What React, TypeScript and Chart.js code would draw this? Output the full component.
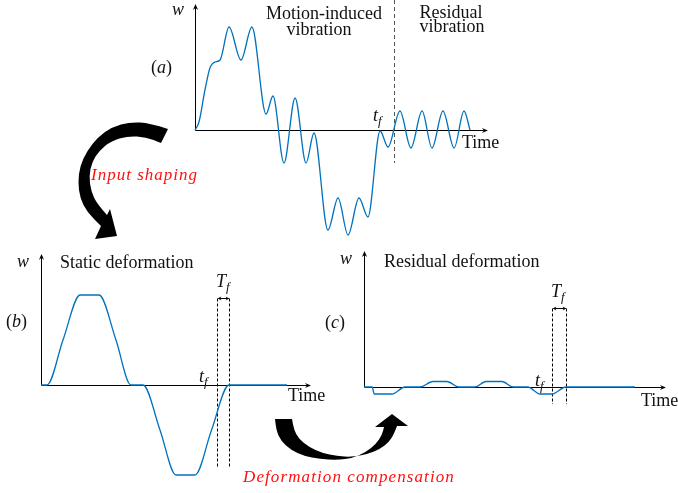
import React, { useEffect, useRef } from 'react';
import { Chart, registerables } from 'chart.js';

Chart.register(...registerables);

// ---------- data ----------
// (a) total vibration w(t): motion-induced part then residual part
const vibTime = [0, 0.2, 0.5, 0.75, 1.0, 1.26, 1.71, 2.31, 2.86, 3.57, 3.92, 4.47, 5.03, 5.58, 5.98, 6.68, 7.19, 7.69, 8.24, 8.69, 9.3, 9.7, 10.3, 10.85, 11.41, 11.91, 12.46, 13.02, 13.52, 13.82];
const vibW = [0, 0.08, 0.4, 0.62, 0.68, 0.7, 1.03, 0.7, 1.03, 0.16, 0.34, -0.33, 0.32, -0.33, -0.03, -1.0, -0.68, -1.05, -0.68, -0.87, -0.01, -0.17, 0.19, -0.18, 0.19, -0.18, 0.19, -0.18, 0.19, 0];

// (b) static deformation
const staticTime = [0, 0.34, 1.25, 2.22, 3.3, 4.26, 5.11, 5.8, 6.76, 7.67, 8.75, 9.69, 10.68, 13.98];
const staticW = [0, 0, 0.5, 1, 1, 0.5, 0, 0, -0.5, -1, -1, -0.5, 0, 0];

// (c) residual deformation
const residualTime = [0, 0.43, 0.55, 1.49, 2.18, 2.98, 3.67, 4.41, 5.05, 5.9, 6.49, 7.34, 7.93, 8.72, 9.36, 10.0, 10.74, 14.41];
const residualW = [0, 0, -0.078, -0.078, 0, 0, 0.061, 0.061, 0, 0, 0.061, 0.061, 0, 0, -0.078, -0.078, 0, 0];

const TF = 10; // t_f
const TF_WIDTH_B = 0.68; // T_f in panel (b)
const TF_WIDTH_C = 0.745; // T_f in panel (c)

// ---------- layout ----------
const W = 678;
const H = 493;
const BLUE = '#0072BD';
const SERIF = "'Liberation Serif', 'Times New Roman', 'DejaVu Serif', serif";
const ROMAN = `18px ${SERIF}`;
const ITAL = `italic 18px ${SERIF}`;
const SUB = `italic 13px ${SERIF}`;

type Panel = { id: string; ox: number; oy: number; kx: number; ky: number; xEnd: number; yTop: number };
const panels: Panel[] = [
  { id: 'a', ox: 195, oy: 130, kx: 19.9, ky: 100, xEnd: 14.72, yTop: 1.26 },
  { id: 'b', ox: 41, oy: 385, kx: 17.6, ky: 90, xEnd: 15.34, yTop: 1.456 },
  { id: 'c', ox: 364, oy: 387, kx: 18.8, ky: 90, xEnd: 16.06, yTop: 1.51 },
];

function buildScales() {
  const s: any = {};
  for (const p of panels) {
    s['x' + p.id] = { type: 'linear', display: false, bounds: 'data', min: -p.ox / p.kx, max: (W - p.ox) / p.kx };
    s['y' + p.id] = { type: 'linear', display: false, bounds: 'data', min: (p.oy - H) / p.ky, max: p.oy / p.ky };
  }
  return s;
}

function zip(t: number[], w: number[]) {
  return t.map((x, i) => ({ x, y: w[i] }));
}

function arrowHead(ctx: CanvasRenderingContext2D, tx: number, ty: number, dx: number, dy: number, len = 6, hw = 2.6) {
  const nx = -dy;
  const ny = dx;
  ctx.beginPath();
  ctx.moveTo(tx, ty);
  ctx.lineTo(tx - len * dx + hw * nx, ty - len * dy + hw * ny);
  ctx.lineTo(tx - 0.65 * len * dx, ty - 0.65 * len * dy);
  ctx.lineTo(tx - len * dx - hw * nx, ty - len * dy - hw * ny);
  ctx.closePath();
  ctx.fill();
}

type Part = { t: string; f: string; dy?: number };
function drawParts(ctx: CanvasRenderingContext2D, x: number, y: number, parts: Part[]) {
  let cx = x;
  for (const p of parts) {
    ctx.font = p.f;
    ctx.fillText(p.t, cx, y + (p.dy || 0));
    cx += ctx.measureText(p.t).width;
  }
}

function smoothPath(ctx: CanvasRenderingContext2D, pts: number[][], start: boolean) {
  if (start) ctx.moveTo(pts[0][0], pts[0][1]);
  else ctx.lineTo(pts[0][0], pts[0][1]);
  for (let i = 1; i < pts.length - 1; i++) {
    const mx = (pts[i][0] + pts[i + 1][0]) / 2;
    const my = (pts[i][1] + pts[i + 1][1]) / 2;
    ctx.quadraticCurveTo(pts[i][0], pts[i][1], mx, my);
  }
  const l = pts[pts.length - 1];
  ctx.lineTo(l[0], l[1]);
}

function curvedArrow(ctx: CanvasRenderingContext2D, outer: number[][], head: number[][], inner: number[][]) {
  ctx.beginPath();
  smoothPath(ctx, outer, true);
  for (const h of head) ctx.lineTo(h[0], h[1]);
  smoothPath(ctx, inner, false);
  ctx.closePath();
  ctx.fill();
}

const decor = {
  id: 'decor',
  beforeDatasetsDraw(chart: any) {
    const ctx: CanvasRenderingContext2D = chart.ctx;
    const S = chart.scales;
    const px = (id: string, v: number) => S['x' + id].getPixelForValue(v);
    const py = (id: string, v: number) => S['y' + id].getPixelForValue(v);
    ctx.save();
    ctx.fillStyle = '#000';
    ctx.strokeStyle = '#000';
    ctx.lineWidth = 1;

    // axes
    for (const p of panels) {
      const x0 = Math.round(px(p.id, 0)) + 0.5;
      const y0 = Math.round(py(p.id, 0)) + 0.5;
      const xe = px(p.id, p.xEnd);
      const yt = py(p.id, p.yTop);
      ctx.setLineDash([]);
      ctx.beginPath();
      ctx.moveTo(x0, y0);
      ctx.lineTo(xe - 3, y0);
      ctx.moveTo(x0, y0);
      ctx.lineTo(x0, yt + 3);
      ctx.stroke();
      arrowHead(ctx, xe, y0, 1, 0);
      arrowHead(ctx, x0, yt, 0, -1);
    }

    // (a) dashed separator at t_f
    {
      const x = Math.round(px('a', TF)) + 0.5;
      ctx.strokeStyle = '#555';
      ctx.setLineDash([4, 3]);
      ctx.beginPath();
      ctx.moveTo(x, py('a', 1.3));
      ctx.lineTo(x, py('a', -0.33));
      ctx.stroke();
    }

    // (b), (c) T_f window
    const windows = [
      { id: 'b', w: TF_WIDTH_B, top: 0.967, bot: -0.92 },
      { id: 'c', w: TF_WIDTH_C, top: 0.878, bot: -0.19 },
    ];
    for (const wd of windows) {
      const x1 = Math.round(px(wd.id, TF)) + 0.5;
      const x2 = Math.round(px(wd.id, TF + wd.w)) + 0.5;
      const yt = Math.round(py(wd.id, wd.top)) + 0.5;
      const yb = py(wd.id, wd.bot);
      ctx.strokeStyle = '#000';
      ctx.setLineDash([3, 2]);
      ctx.beginPath();
      ctx.moveTo(x1, yt);
      ctx.lineTo(x1, yb);
      ctx.moveTo(x2, yt);
      ctx.lineTo(x2, yb);
      ctx.stroke();
      ctx.setLineDash([]);
      ctx.beginPath();
      ctx.moveTo(x1 + 2, yt);
      ctx.lineTo(x2 - 2, yt);
      ctx.stroke();
      arrowHead(ctx, x1, yt, -1, 0, 4, 2);
      arrowHead(ctx, x2, yt, 1, 0, 4, 2);
    }

    // curved arrows
    ctx.fillStyle = '#000';
    curvedArrow(
      ctx,
      [[168, 129], [150, 123], [130, 122], [112, 127], [98, 137], [87, 151], [80, 166], [78, 182], [80, 198], [87, 212], [101, 226]],
      [[95, 239], [117, 236], [110, 209]],
      [[107, 215], [97, 204], [91, 191], [89, 176], [92, 162], [99, 151], [111, 141], [128, 136], [146, 137], [161, 143]]
    );
    curvedArrow(
      ctx,
      [[275, 419], [276, 430], [281, 441], [291, 450], [304, 456], [320, 459], [337, 460], [353, 458], [366, 452], [376, 444], [382, 435], [384, 427]],
      [[375, 427], [392, 414], [408, 426]],
      [[397, 426], [394, 434], [389, 442], [380, 449], [368, 454], [352, 457], [337, 456], [322, 453], [309, 447], [299, 439], [294, 430], [292, 419]]
    );

    // texts
    ctx.fillStyle = '#111';
    ctx.textBaseline = 'alphabetic';
    ctx.textAlign = 'left';
    const tf = (x: number, y: number) => drawParts(ctx, x, y, [{ t: 't', f: ITAL }, { t: 'f', f: SUB, dy: 4 }]);
    const Tf = (x: number, y: number) => drawParts(ctx, x, y, [{ t: 'T', f: ITAL }, { t: 'f', f: SUB, dy: 4 }]);
    const lab = (x: number, y: number, c: string) => drawParts(ctx, x, y, [{ t: '(', f: ROMAN }, { t: c, f: ITAL }, { t: ')', f: ROMAN }]);

    // panel a
    drawParts(ctx, 172, 15, [{ t: 'w', f: ITAL }]);
    lab(151, 73, 'a');
    ctx.font = ROMAN;
    ctx.textAlign = 'center';
    ctx.fillText('Motion-induced', 324, 19);
    ctx.fillText('vibration', 319, 35);
    ctx.fillText('Residual', 451, 18);
    ctx.fillText('vibration', 452, 32);
    ctx.textAlign = 'left';
    ctx.fillText('Time', 462, 148);
    tf(373, 121);

    // panel b
    drawParts(ctx, 17, 267, [{ t: 'w', f: ITAL }]);
    ctx.font = ROMAN;
    ctx.fillText('Static deformation', 60, 268);
    lab(6, 327, 'b');
    Tf(216, 287);
    tf(199, 382);
    ctx.font = ROMAN;
    ctx.fillText('Time', 288, 401);

    // panel c
    drawParts(ctx, 340, 264, [{ t: 'w', f: ITAL }]);
    ctx.font = ROMAN;
    ctx.fillText('Residual deformation', 384, 267);
    lab(325, 328, 'c');
    Tf(551, 297);
    tf(535, 386);
    ctx.font = ROMAN;
    ctx.fillText('Time', 641, 406);

    // red captions
    ctx.fillStyle = '#ff1010';
    ctx.font = `italic 17px ${SERIF}`;
    (ctx as any).letterSpacing = '1px';
    ctx.fillText('Input shaping', 91, 180);
    (ctx as any).letterSpacing = '1.1px';
    ctx.fillText('Deformation compensation', 243, 482);
    (ctx as any).letterSpacing = '0px';

    ctx.restore();
  },
};

export default function App() {
  const ref = useRef<HTMLCanvasElement | null>(null);
  useEffect(() => {
    if (!ref.current) return;
    const common = {
      borderColor: BLUE,
      borderWidth: 1.3,
      pointRadius: 0,
      fill: false,
      cubicInterpolationMode: 'monotone' as const,
      clip: false as any,
    };
    const chart = new Chart(ref.current, {
      type: 'line',
      data: {
        datasets: [
          { ...common, label: 'Vibration', data: zip(vibTime, vibW), xAxisID: 'xa', yAxisID: 'ya' },
          { ...common, label: 'Static deformation', data: zip(staticTime, staticW), xAxisID: 'xb', yAxisID: 'yb' },
          { ...common, label: 'Residual deformation', data: zip(residualTime, residualW), xAxisID: 'xc', yAxisID: 'yc' },
        ],
      },
      options: {
        responsive: false,
        animation: false,
        devicePixelRatio: 1,
        events: [],
        layout: { padding: 0 },
        scales: buildScales(),
        plugins: { legend: { display: false }, tooltip: { enabled: false }, title: { display: false } },
      },
      plugins: [decor],
    } as any);
    return () => chart.destroy();
  }, []);
  return (
    <div style={{ position: 'absolute', left: 0, top: 0, width: W, height: H, background: '#fff' }}>
      <canvas ref={ref} width={W} height={H} style={{ display: 'block', width: W, height: H }} />
    </div>
  );
}
